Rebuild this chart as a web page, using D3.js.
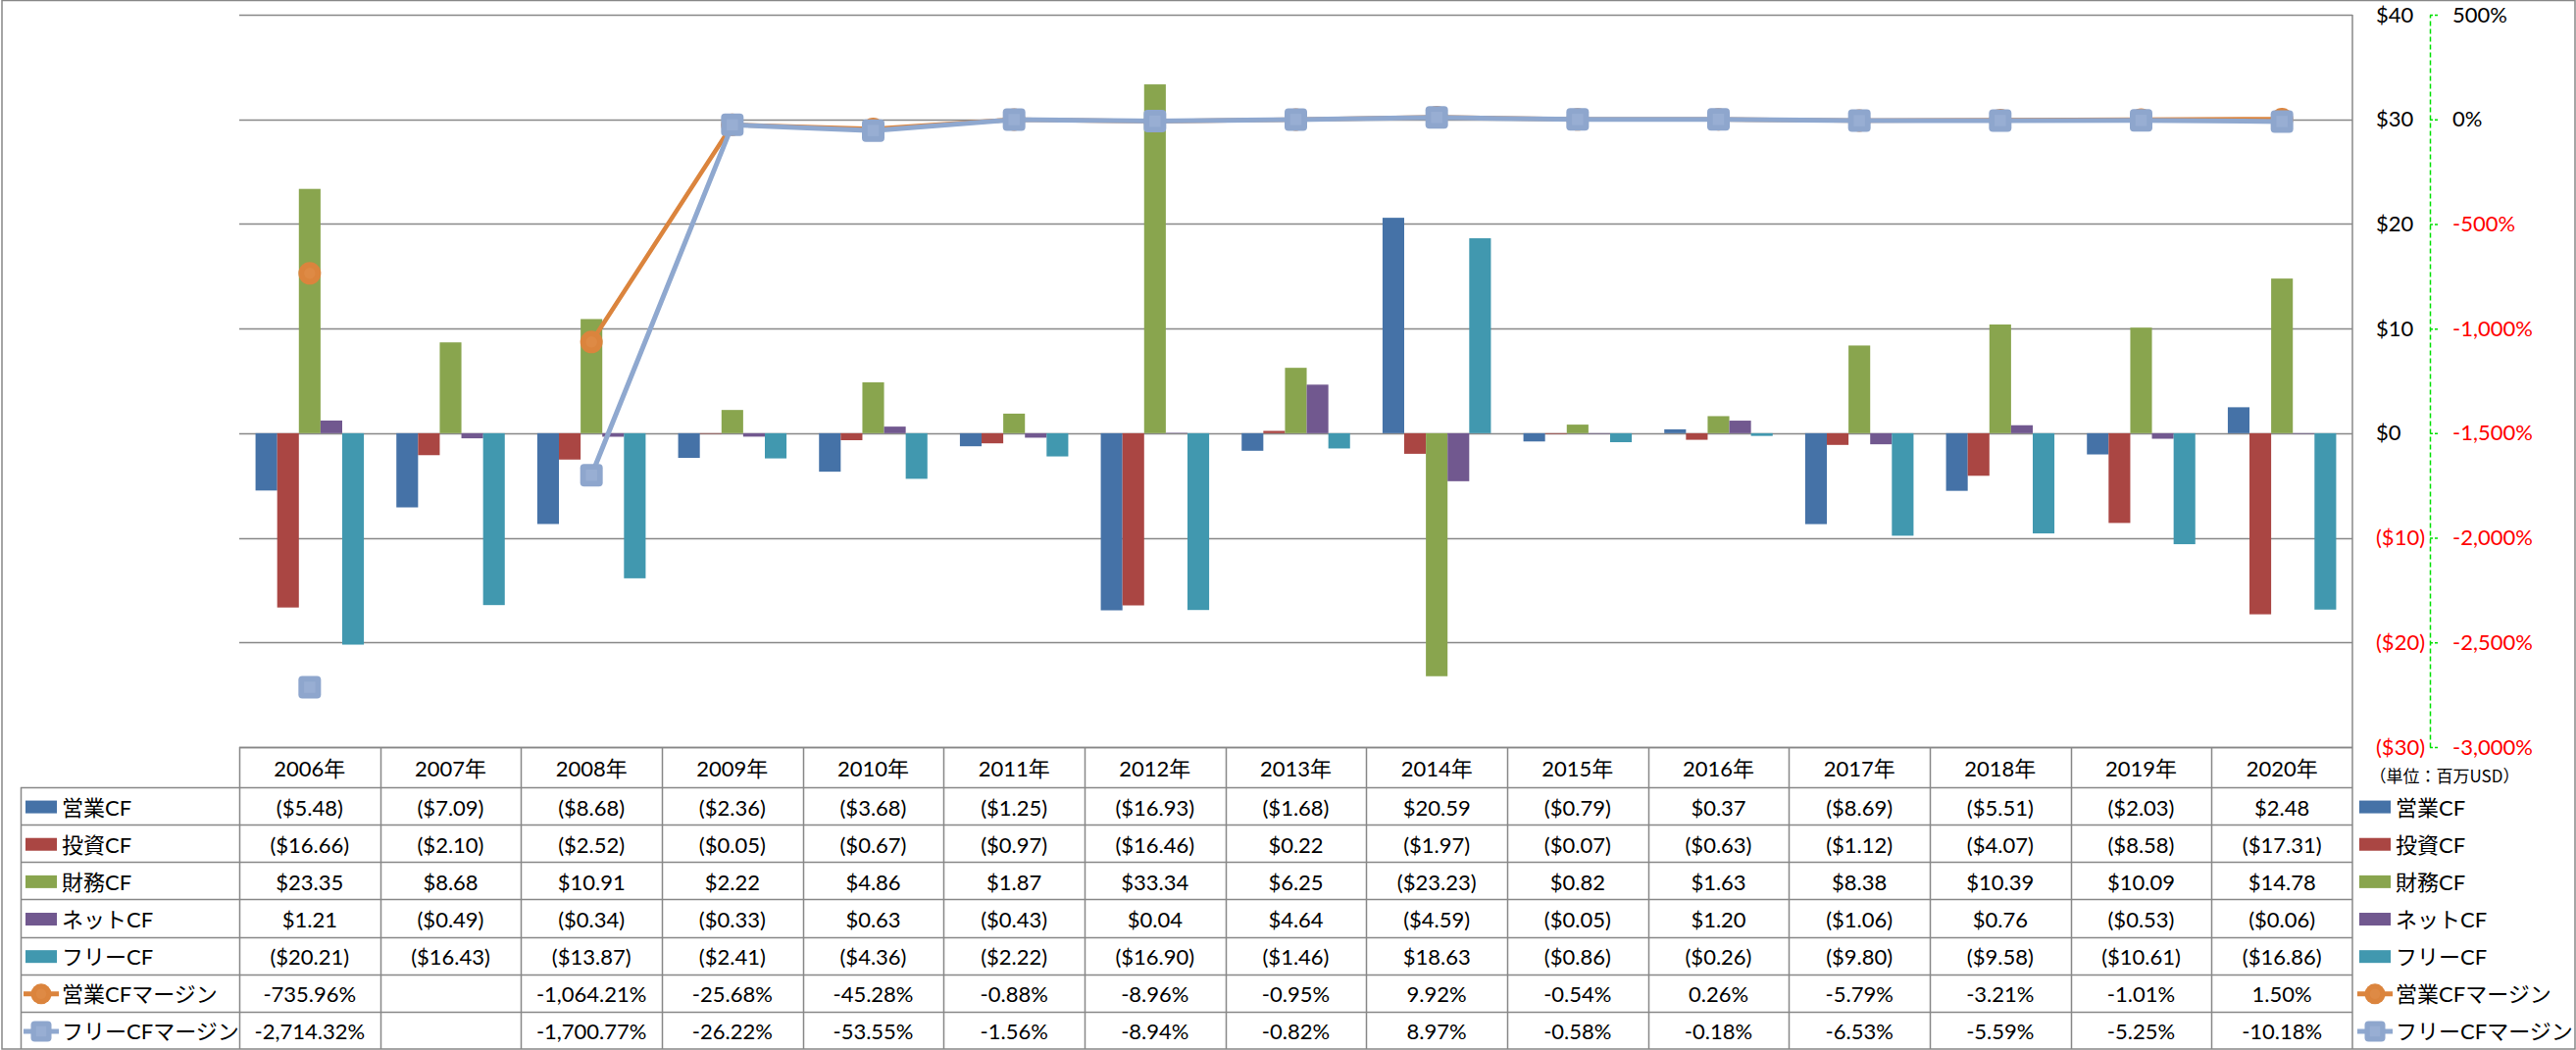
<!DOCTYPE html>
<html><head><meta charset="utf-8">
<script src="https://cdn.jsdelivr.net/npm/d3@7"></script>
<style>
html,body{margin:0;padding:0;background:#fff;}
svg{display:block;font-family:Lato,"Noto Sans CJK JP",sans-serif;}
</style></head>
<body>
<svg id="c" width="2627" height="1071"></svg>
<script>
const years = ["2006年","2007年","2008年","2009年","2010年","2011年","2012年","2013年","2014年","2015年","2016年","2017年","2018年","2019年","2020年"];
const barSeries = ["営業CF","投資CF","財務CF","ネットCF","フリーCF"];
const lineSeries = ["営業CFマージン","フリーCFマージン"];
const opCF   = [-5.48,-7.09,-8.68,-2.36,-3.68,-1.25,-16.93,-1.68,20.59,-0.79,0.37,-8.69,-5.51,-2.03,2.48];
const invCF  = [-16.66,-2.10,-2.52,-0.05,-0.67,-0.97,-16.46,0.22,-1.97,-0.07,-0.63,-1.12,-4.07,-8.58,-17.31];
const finCF  = [23.35,8.68,10.91,2.22,4.86,1.87,33.34,6.25,-23.23,0.82,1.63,8.38,10.39,10.09,14.78];
const netCF  = [1.21,-0.49,-0.34,-0.33,0.63,-0.43,0.04,4.64,-4.59,-0.05,1.20,-1.06,0.76,-0.53,-0.06];
const freeCF = [-20.21,-16.43,-13.87,-2.41,-4.36,-2.22,-16.90,-1.46,18.63,-0.86,-0.26,-9.80,-9.58,-10.61,-16.86];
const opMargin   = [-735.96,null,-1064.21,-25.68,-45.28,-0.88,-8.96,-0.95,9.92,-0.54,0.26,-5.79,-3.21,-1.01,1.50];
const freeMargin = [-2714.32,null,-1700.77,-26.22,-53.55,-1.56,-8.94,-0.82,8.97,-0.58,-0.18,-6.53,-5.59,-5.25,-10.18];
const yTicks = [-30,-20,-10,0,10,20,30,40];
const y2Ticks = [-3000,-2500,-2000,-1500,-1000,-500,0,500];
const unitLabel = "（単位：百万USD）";

const barValues = [opCF, invCF, finCF, netCF, freeCF];
const lineValues = [opMargin, freeMargin];
const barColors = ["#4572A7","#AA4643","#89A54E","#71588F","#4198AF"];
const lineColors = ["#DB843D","#8FA8CF"];

const svg = d3.select("#c");
const L = 244, R = 2399, T = 15, B = 762;
const x = d3.scaleBand().domain(years).range([L, R]).padding(0);
const xi = d3.scaleBand().domain(barSeries).range([0, x.bandwidth()]).paddingInner(0).paddingOuter(0.75);
const y = d3.scaleLinear().domain([-30, 40]).range([B, T]);
const y2 = d3.scaleLinear().domain([-3000, 500]).range([B, T]);
const hy = s => s.replace(/\u2212/g, "-");

const grid = "#888888";
svg.append("rect").attr("x",2).attr("y",0.5).attr("width",2624).attr("height",1069.5)
  .attr("fill","none").attr("stroke",grid).attr("stroke-width",1.5);

svg.append("g").selectAll("line").data(yTicks).join("line")
  .attr("x1",L).attr("x2",R).attr("y1",d=>Math.round(y(d))+0.5).attr("y2",d=>Math.round(y(d))+0.5)
  .attr("stroke",grid).attr("stroke-width",1.5);
svg.append("line").attr("x1",R).attr("x2",R).attr("y1",T).attr("y2",1070).attr("stroke",grid).attr("stroke-width",1.5);

const bars = svg.append("g");
barSeries.forEach((s, si) => {
  bars.append("g").selectAll("rect").data(barValues[si]).join("rect")
    .attr("x",(d,i)=>x(years[i]) + xi(s))
    .attr("width",xi.bandwidth())
    .attr("y",d=>y(Math.max(0,d)))
    .attr("height",d=>Math.abs(y(d)-y(0)))
    .attr("fill",barColors[si]);
});

const cx = i => x(years[i]) + x.bandwidth()/2;
function drawMarker(g, kind, px, py, r){
  if(kind===0){
    g.append("circle").attr("cx",px).attr("cy",py).attr("r",r).attr("fill","#DB843D");
    g.append("circle").attr("cx",px).attr("cy",py).attr("r",r*0.5).attr("fill","#DE8A45");
  } else {
    g.append("rect").attr("x",px-r).attr("y",py-r).attr("width",2*r).attr("height",2*r).attr("rx",4).attr("fill","#8EA6CD");
    g.append("rect").attr("x",px-r*0.5).attr("y",py-r*0.5).attr("width",r).attr("height",r).attr("fill","#98AED3");
  }
}
lineSeries.forEach((s, li) => {
  const vals = lineValues[li];
  const line = d3.line().defined(d=>d!==null).x((d,i)=>cx(i)).y(d=>y2(d));
  const g = svg.append("g");
  g.append("path").attr("d",line(vals)).attr("fill","none").attr("stroke",lineColors[li])
    .attr("stroke-width",li===0?4.5:5).attr("stroke-linejoin","round");
  vals.forEach((v,i)=>{ if(v!==null) drawMarker(g, li, cx(i), y2(v), 11.5); });
});

const ax1 = svg.append("g").attr("transform",`translate(${R},0)`)
  .call(d3.axisRight(y).tickValues(yTicks).tickSize(0).tickPadding(24)
    .tickFormat(d=> d<0 ? `($${Math.abs(d)})` : `$${d}`));
ax1.select(".domain").remove();
ax1.selectAll("text").attr("font-size",22).attr("font-family","Lato,'Noto Sans CJK JP',sans-serif")
  .attr("fill",d=>d<0?"#FF0000":"#000");

const ax2 = svg.append("g").attr("transform",`translate(2478,0)`)
  .call(d3.axisRight(y2).tickValues(y2Ticks).tickSize(9).tickSizeOuter(0).tickPadding(14)
    .tickFormat(d=> hy(d3.format(",")(d)) + "%"));
ax2.select(".domain").attr("stroke","#00E000").attr("stroke-width",1.5).attr("stroke-dasharray","5,3");
ax2.selectAll(".tick line").attr("stroke","#00E000").attr("stroke-width",1.5).attr("stroke-dasharray","3,2");
ax2.selectAll("text").attr("font-size",22).attr("font-family","Lato,'Noto Sans CJK JP',sans-serif")
  .attr("fill",d=>d<0?"#FF0000":"#000");

svg.append("text").attr("x",2493).attr("y",790).attr("text-anchor","middle").attr("dominant-baseline","central")
  .attr("font-size",17).attr("font-family","'Noto Sans CJK JP',sans-serif").attr("fill","#000").text(unitLabel);

const headTop = 762, rowTop = 803, rowH = 38.15;
const nRows = barSeries.length + lineSeries.length;
const tbl = svg.append("g");
const tableBottom = rowTop + nRows*rowH;
tbl.append("line").attr("x1",L).attr("x2",R).attr("y1",headTop+0.5).attr("y2",headTop+0.5).attr("stroke",grid).attr("stroke-width",1.5);
d3.range(nRows).forEach(r=>{
  const yy = Math.round(rowTop + r*rowH)+0.5;
  tbl.append("line").attr("x1",21).attr("x2",R).attr("y1",yy).attr("y2",yy).attr("stroke",grid).attr("stroke-width",1.5);
});
tbl.append("line").attr("x1",21.5).attr("x2",21.5).attr("y1",rowTop).attr("y2",tableBottom).attr("stroke",grid).attr("stroke-width",1.5);
years.forEach(yr=>{
  const xx = Math.round(x(yr))+0.5;
  tbl.append("line").attr("x1",xx).attr("x2",xx).attr("y1",headTop).attr("y2",tableBottom).attr("stroke",grid).attr("stroke-width",1.5);
});
tbl.append("g").selectAll("text").data(years).join("text")
  .attr("x",d=>x(d)+x.bandwidth()/2).attr("y",headTop+21).attr("text-anchor","middle").attr("dominant-baseline","central")
  .attr("font-size",22).attr("fill","#000").text(d=>d);

const fmtMoney = v => v<0 ? `($${Math.abs(v).toFixed(2)})` : `$${v.toFixed(2)}`;
const fmtPct = v => v===null ? "" : hy(d3.format(",.2f")(v)) + "%";
const allNames = barSeries.concat(lineSeries);
const allVals = barValues.concat(lineValues);
allNames.forEach((name, r)=>{
  const cy = rowTop + r*rowH + rowH/2 + 1;
  const isLine = r >= barSeries.length;
  tbl.append("g").selectAll("text").data(allVals[r]).join("text")
    .attr("x",(d,i)=>x(years[i])+x.bandwidth()/2).attr("y",cy).attr("text-anchor","middle").attr("dominant-baseline","central")
    .attr("font-size",22).attr("fill","#000").text(d=> isLine ? fmtPct(d) : fmtMoney(d));
  [[26, 63],[2406, 2443]].forEach(([kx, tx])=>{
    if(!isLine){
      tbl.append("rect").attr("x",kx).attr("y",cy-6.5).attr("width",32).attr("height",13).attr("fill",barColors[r]);
    } else {
      const li = r - barSeries.length;
      tbl.append("line").attr("x1",kx-2).attr("x2",kx+34).attr("y1",cy).attr("y2",cy)
        .attr("stroke",lineColors[li]).attr("stroke-width",5);
      drawMarker(tbl, li, kx+16, cy, 10.5);
    }
    tbl.append("text").attr("x",tx).attr("y",cy).attr("dominant-baseline","central")
      .attr("font-size",22).attr("fill","#000").text(name);
  });
});
</script>
</body></html>
